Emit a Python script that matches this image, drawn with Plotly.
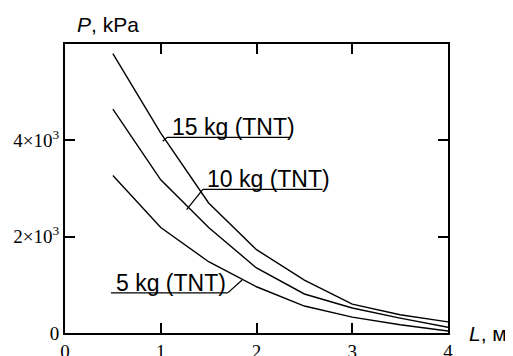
import plotly.graph_objects as go

L = [0.5, 1, 1.5, 2, 2.5, 3, 3.5, 4]
p15 = [5800, 4150, 2700, 1730, 1100, 600, 380, 230]
p10 = [4650, 3180, 2190, 1350, 810, 520, 310, 120]
p5 = [3270, 2190, 1480, 960, 560, 330, 170, 40]

x_ticks = [0, 1, 2, 3, 4]
y_ticks = [0, 2000, 4000]
y_ticktext = ["0", "2×10<sup>3</sup>", "4×10<sup>3</sup>"]

labels = ["15 kg (TNT)", "10 kg (TNT)", "5 kg (TNT)"]

fig = go.Figure()
for ys in (p15, p10, p5):
    fig.add_trace(go.Scatter(x=L, y=ys, mode="lines",
                             line=dict(color="black", width=1.4),
                             showlegend=False, hoverinfo="skip"))

lab_font = dict(family="Liberation Sans, Arial", size=23, color="black")
fig.add_annotation(x=1.1, y=4270, text=labels[0], showarrow=False,
                   xanchor="left", yanchor="middle", font=lab_font)
fig.add_annotation(x=1.46, y=3190, text=labels[1], showarrow=False,
                   xanchor="left", yanchor="middle", font=lab_font)
fig.add_annotation(x=0.51, y=1040, text=labels[2], showarrow=False,
                   xanchor="left", yanchor="middle", font=lab_font)

ln = dict(color="black", width=1.3)
segs = [
    (1.065, 4060, 2.35, 4060), (1.065, 4060, 1.02, 3980),
    (1.44, 2980, 2.69, 2980), (1.44, 2980, 1.27, 2560),
    (0.48, 833, 1.70, 833), (1.70, 833, 1.85, 1100),
]
for x0, y0, x1, y1 in segs:
    fig.add_shape(type="line", x0=x0, y0=y0, x1=x1, y1=y1, xref="x", yref="y", line=ln)

ax_font = dict(family="Liberation Sans, Arial", size=21, color="black")
fig.add_annotation(xref="paper", yref="paper", x=0.026, y=1.02, text="<i>P</i>, kPa",
                   showarrow=False, xanchor="left", yanchor="bottom", font=ax_font)
fig.add_annotation(xref="paper", yref="paper", x=1.05, y=0.0, text="<i>L</i>, м",
                   showarrow=False, xanchor="left", yanchor="middle", font=ax_font)

tick_font = dict(family="Liberation Serif, Times New Roman", size=19, color="black")
fig.update_xaxes(range=[0, 4], tickvals=x_ticks, ticks="inside", ticklen=10,
                 tickwidth=1.5, tickcolor="black", showline=True, linecolor="black",
                 linewidth=2, mirror="ticks", showgrid=False, zeroline=False,
                 tickfont=tick_font, automargin=False, ticklabelstandoff=0)
fig.update_yaxes(range=[0, 6000], tickvals=y_ticks, ticktext=y_ticktext, ticks="inside",
                 ticklen=10, tickwidth=1.5, tickcolor="black", showline=True,
                 linecolor="black", linewidth=2, mirror="ticks", showgrid=False,
                 zeroline=False, tickfont=tick_font, automargin=False)

fig.update_layout(width=513, height=356, margin=dict(l=57, r=73, t=36, b=31),
                  plot_bgcolor="white", paper_bgcolor="white")
fig.write_html("out.html")
